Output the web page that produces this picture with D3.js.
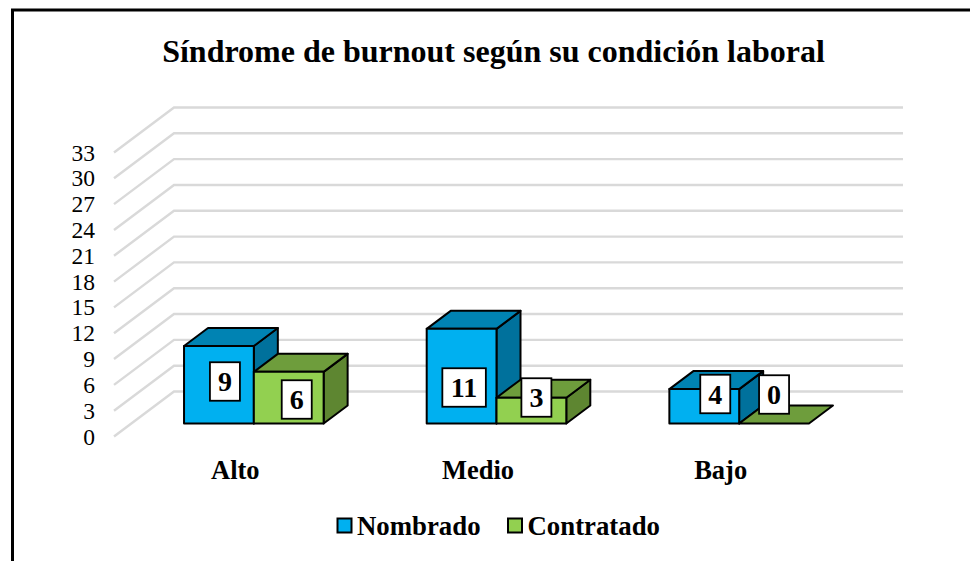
<!DOCTYPE html>
<html><head><meta charset="utf-8">
<script src="https://cdn.jsdelivr.net/npm/d3@7"></script>
<style>html,body{margin:0;padding:0;background:#fff;overflow:hidden}svg{display:block}text{font-family:"Liberation Serif","Times New Roman",serif;fill:#000}</style>
</head><body><svg id="c" width="970" height="561"></svg>
<script>
const titleText = "Síndrome de burnout según su condición laboral";
const categories = ["Alto", "Medio", "Bajo"];
const seriesNames = ["Nombrado", "Contratado"];
const nombrado = [9, 11, 4];
const contratado = [6, 3, 0];
const tickValues = [0, 3, 6, 9, 12, 15, 18, 21, 24, 27, 30, 33];

// colours per series: front, top, side
const seriesColors = [["#00B0F0", "#0083B3", "#00719C"], ["#92D050", "#6E9D3C", "#5E8631"]];
const seriesValues = [nombrado, contratado];
// manual label placement (dx from bar centre, dy from floor line), per series and category
const labelOffsets = [
  [[6, -42], [2.5, -36], [11, -29.5]],
  [[8, -24], [5, -26], [0, -29]]
];

const svg = d3.select("#c");
const y = d3.scaleLinear().domain([0, 33]).range([436.5, 152.5]);
const x = d3.scaleBand().domain(categories).range([114, 842]);
const wallDx = 60, wallDy = 45, gridRight = 903;
const barW = 69.8, depthX = 24, depthY = 18, floorLift = 13, barShift = 18.5;

svg.append("rect").attr("x", 12.5).attr("y", 10).attr("width", 1200).attr("height", 1000)
  .attr("fill", "#fff").attr("stroke", "#000").attr("stroke-width", 3);

svg.append("text").attr("x", 493.5).attr("y", 62).attr("text-anchor", "middle")
  .attr("font-size", 32).attr("font-weight", "bold").text(titleText);

svg.append("g").selectAll("polyline").data(tickValues).join("polyline")
  .attr("fill", "none").attr("stroke", "#D9D9D9").attr("stroke-width", 2.4)
  .attr("points", d => `114,${y(d)} ${114 + wallDx},${y(d) - wallDy} ${gridRight},${y(d) - wallDy}`);

const axis = d3.axisLeft(y).tickValues(tickValues).tickSize(0).tickPadding(0).tickFormat(d3.format("d"));
const ag = svg.append("g").attr("transform", "translate(95,0)").call(axis);
ag.select(".domain").remove();
ag.selectAll("text").attr("font-size", 23.5).style("font-family", '"Liberation Serif",serif').attr("fill", "#000");

const bars = [];
categories.forEach((c, i) => seriesValues.forEach((vals, s) => bars.push({c, i, s, v: vals[i]})));
const barsG = svg.append("g");
const labelsG = svg.append("g");
const base = y(0) - floorLift;
const px = d => y(0) - y(d);

bars.forEach(b => {
  const x0 = x(b.c) + x.bandwidth() / 2 + barShift - barW + b.s * barW;
  const x1 = x0 + barW;
  const top = base - px(b.v);
  const g = barsG.append("g").attr("stroke", "#000").attr("stroke-width", 2).attr("stroke-linejoin", "round");
  const cols = seriesColors[b.s];
  if (b.v > 0) {
    g.append("polygon").attr("fill", cols[2])
      .attr("points", [[x1, base], [x1 + depthX, base - depthY], [x1 + depthX, top - depthY], [x1, top]].join(" "));
  }
  g.append("polygon").attr("fill", cols[1])
    .attr("points", [[x0, top], [x0 + depthX, top - depthY], [x1 + depthX, top - depthY], [x1, top]].join(" "));
  if (b.v > 0) {
    g.append("rect").attr("x", x0).attr("y", top).attr("width", barW).attr("height", px(b.v)).attr("fill", cols[0]);
  }
  const off = labelOffsets[b.s][b.i];
  const cx = (x0 + x1) / 2 + off[0], cy = base + off[1];
  const w = b.v >= 10 ? 43.5 : 30, h = 38.5;
  labelsG.append("rect").attr("x", cx - w / 2).attr("y", cy - h / 2).attr("width", w).attr("height", h)
    .attr("fill", "#fff").attr("stroke", "#000").attr("stroke-width", 1.8);
  labelsG.append("text").attr("x", cx).attr("y", cy + 9.5).attr("text-anchor", "middle")
    .attr("font-size", 28).attr("font-weight", "bold").text(b.v);
});

svg.append("g").selectAll("text").data(categories).join("text")
  .attr("x", d => x(d) + x.bandwidth() / 2)
  .attr("y", 479).attr("text-anchor", "middle")
  .attr("font-size", 26.5).attr("font-weight", "bold").text(d => d);

const legendX = [337.5, 508];
seriesNames.forEach((n, i) => {
  svg.append("rect").attr("x", legendX[i]).attr("y", 518.5).attr("width", 14).attr("height", 14)
    .attr("fill", seriesColors[i][0]).attr("stroke", "#000").attr("stroke-width", 2);
  svg.append("text").attr("x", legendX[i] + 19.5).attr("y", 534.5)
    .attr("font-size", 26.8).attr("font-weight", "bold").text(n);
});
</script></body></html>
